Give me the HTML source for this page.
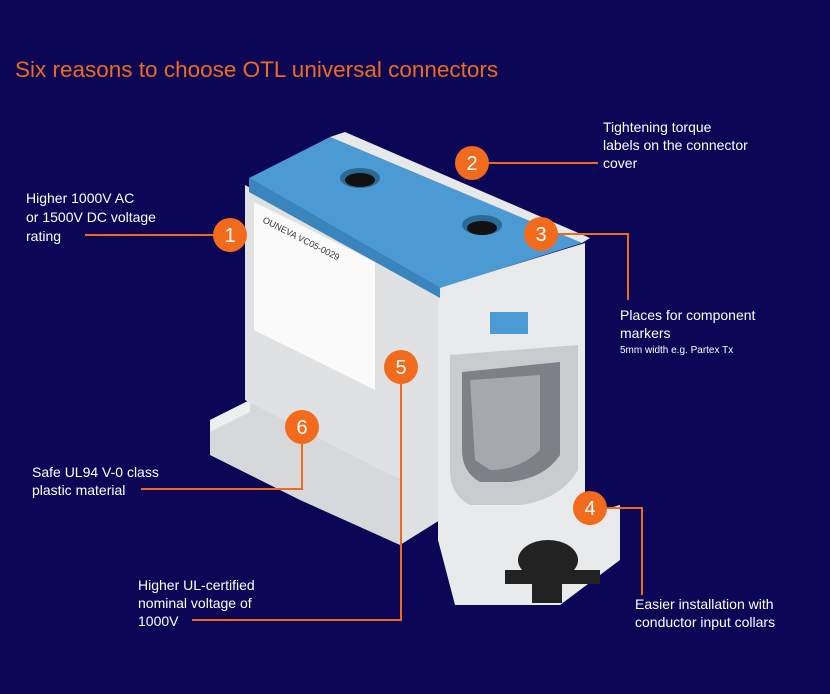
<!DOCTYPE html>
<html><head><meta charset="utf-8"><style>
html,body{margin:0;padding:0;background:#0b0656;}
svg{display:block}
text{font-family:"Liberation Sans",sans-serif;}
</style></head><body>
<svg width="830" height="694" viewBox="0 0 830 694" xmlns="http://www.w3.org/2000/svg">
<rect width="830" height="694" fill="#0b0656"/>
<text x="15" y="77" font-size="22.5" fill="#ef6a1d">Six reasons to choose OTL universal connectors</text>

<!-- left foot -->
<polygon points="210,420 250,400 400,480 400,545 300,500 210,455" fill="#d6d8da"/>
<polygon points="210,420 250,400 250,412 210,432" fill="#eceeef"/>
<!-- front/left face -->
<polygon points="245,185 440,290 440,520 400,545 400,480 245,400" fill="#dfe1e3"/>
<!-- right face -->
<polygon points="438,288 585,243 585,515 620,505 620,560 560,605 455,605 438,540" fill="#e8eaeb"/>
<!-- window -->
<path d="M450 355 L578 345 L578 470 Q560 500 520 505 L470 505 Q450 495 450 470 Z" fill="#c9cccf"/>
<path d="M462 372 L560 362 L560 455 Q545 478 510 482 L480 482 Q462 472 462 450 Z" fill="#7d8086"/>
<path d="M470 380 L540 375 L540 450 Q520 470 490 470 L475 460 Z" fill="#a5a8ad"/>
<!-- bottom collar -->
<ellipse cx="548" cy="560" rx="30" ry="20" fill="#222"/>
<rect x="505" y="570" width="95" height="14" fill="#222"/>
<rect x="532" y="568" width="30" height="35" fill="#222"/>
<!-- top blue -->
<polygon points="249,178 330,137 582,243 440,288" fill="#4b9ad3"/>
<polygon points="249,178 440,288 440,298 249,192" fill="#3b85bf"/>
<polygon points="330,137 345,132 590,238 582,243" fill="#e6e8ea"/>
<ellipse cx="360" cy="178" rx="20" ry="10" fill="#2a6a95"/>
<ellipse cx="360" cy="180" rx="15" ry="7" fill="#111"/>
<ellipse cx="482" cy="225" rx="20" ry="10" fill="#2a6a95"/>
<ellipse cx="482" cy="228" rx="15" ry="7" fill="#111"/>
<!-- marker -->
<rect x="490" y="312" width="38" height="22" fill="#4b9ad3"/>
<!-- label -->
<polygon points="254,202 375,262 375,390 254,330" fill="#fafafa"/>
<text x="262" y="222" font-size="9" fill="#333" transform="rotate(27 262 222)">OUNEVA VC05-0029</text>

<!-- callouts -->
<g stroke="#ef6a1d" stroke-width="2" fill="none">
<line x1="85" y1="235" x2="215" y2="235"/>
<line x1="488" y1="163" x2="598" y2="163"/>
<polyline points="556,234 628,234 628,300"/>
<polyline points="606,508 642,508 642,595"/>
<polyline points="401,383 401,620 192,620"/>
<polyline points="302,443 302,489 141,489"/>
</g>
<g fill="#f26b1d">
<circle cx="230" cy="235" r="17"/><circle cx="472" cy="163" r="17"/><circle cx="541" cy="234" r="17"/>
<circle cx="590" cy="508" r="17"/><circle cx="401" cy="367" r="17"/><circle cx="302" cy="427" r="17"/>
</g>
<g fill="#fff" font-size="20" text-anchor="middle">
<text x="230" y="242">1</text><text x="472" y="170">2</text><text x="541" y="241">3</text>
<text x="590" y="515">4</text><text x="401" y="374">5</text><text x="302" y="434">6</text>
</g>
<g fill="#fff" font-size="14">
<text x="26" y="203">Higher 1000V AC</text>
<text x="26" y="222">or 1500V DC voltage</text>
<text x="26" y="241">rating</text>
<text x="603" y="132">Tightening torque</text>
<text x="603" y="150">labels on the connector</text>
<text x="603" y="168">cover</text>
<text x="620" y="320">Places for component</text>
<text x="620" y="338">markers</text>
<text x="620" y="353" font-size="10">5mm width e.g. Partex Tx</text>
<text x="32" y="477">Safe UL94 V-0 class</text>
<text x="32" y="495">plastic material</text>
<text x="138" y="590">Higher UL-certified</text>
<text x="138" y="608">nominal voltage of</text>
<text x="138" y="626">1000V</text>
<text x="635" y="609">Easier installation with</text>
<text x="635" y="627">conductor input collars</text>
</g>
</svg>
</body></html>
